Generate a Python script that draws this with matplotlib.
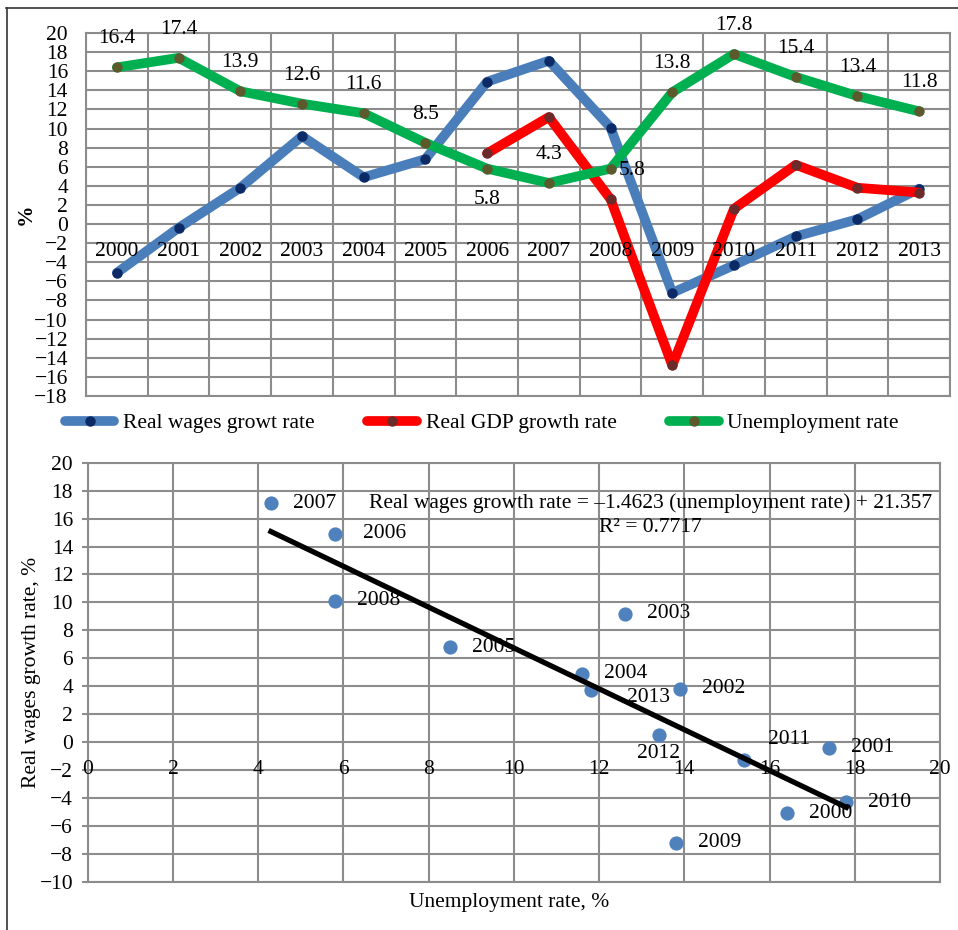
import numpy as np
import matplotlib
matplotlib.use("Agg")
import matplotlib.pyplot as plt
from matplotlib.lines import Line2D

plt.rcParams["font.family"] = ["Liberation Serif", "DejaVu Serif"]
plt.rcParams["font.size"] = 15.5

# Annual series, 2000-2013
years = [str(y) for y in range(2000, 2014)]
wages = [-5.1, -0.4, 3.8, 9.2, 4.9, 6.8, 14.9, 17.1, 10.1, -7.2, -4.3, -1.3, 0.5, 3.7]
gdp = [np.nan] * 6 + [7.4, 11.2, 2.6, -14.8, 1.6, 6.2, 3.8, 3.3]
unemp = [16.4, 17.4, 13.9, 12.6, 11.6, 8.5, 5.8, 4.3, 5.8, 13.8, 17.8, 15.4, 13.4, 11.8]

# Linear fit reported on the scatter panel
slope, intercept, r2 = -1.4623, 21.357, 0.7717

GRID = "#8c8c8c"
GRID_LW = 1.5

fig = plt.figure(figsize=(9.58, 9.30), dpi=100)

# outer frame (left and top edges only)
fig.add_artist(Line2D([6.5 / 958, 6.5 / 958], [0, 1 - 8 / 930], color="#333333", lw=1.2))
fig.add_artist(Line2D([6 / 958, 1], [1 - 8 / 930, 1 - 8 / 930], color="#333333", lw=1.2))


def style_grid(ax):
    for s in ax.spines.values():
        s.set_color(GRID)
        s.set_linewidth(GRID_LW)
    ax.grid(True, which="both", color=GRID, lw=GRID_LW)
    ax.set_axisbelow(True)


# ---- top: time series ----
ax1 = fig.add_axes([86 / 958, 1 - 396 / 930, 864 / 958, 363 / 930])
x = np.arange(len(years))
ax1.set_xlim(-0.5, len(years) - 0.5)
ax1.set_ylim(-18, 20)
ax1.set_yticks(np.arange(-18, 21, 2))
ax1.set_xticks(np.arange(-0.5, len(years), 1))
ax1.set_xticklabels([])
ax1.tick_params(axis="x", length=0)
ax1.tick_params(axis="y", length=0, pad=13)
style_grid(ax1)

line_kw = dict(lw=7, marker="o", ms=6.5, solid_capstyle="round", solid_joinstyle="round")
ax1.plot(x, wages, color="#4a7ebb", mfc="#0b2a66", mec="#0b2a66", label="Real wages growt rate", **line_kw)
ax1.plot(x, gdp, color="#ff0000", mfc="#6b2b2b", mec="#6b2b2b", label="Real GDP growth rate", **line_kw)
ax1.plot(x, unemp, color="#00b050", mfc="#5c5a2c", mec="#5c5a2c", label="Unemployment rate", **line_kw)

for i, yr in enumerate(years):
    ax1.annotate(yr, (i, 0), xytext=(0, -19.5), textcoords="offset points",
                 ha="center", va="center")

# unemployment value labels
for i, v in enumerate(unemp):
    if years[i] == "2006":
        off, ha = (0, -22.5), "center"
    elif years[i] == "2008":
        off, ha = (6, -1.5), "left"
    else:
        off, ha = (0, 20.5), "center"
    ax1.annotate(f"{v:.1f}", (i, v), xytext=off, textcoords="offset points",
                 ha=ha, va="center")

ax1.set_ylabel("%", fontweight="bold")
ax1.yaxis.set_label_coords(-0.058, 0.5)

fig.legend(loc="center", bbox_to_anchor=(0.503, 1 - 423 / 930), ncol=3, frameon=False,
           handlelength=2.3, handletextpad=0.4, columnspacing=2.45, numpoints=1)

# ---- bottom: scatter ----
ax2 = fig.add_axes([87.7 / 958, 1 - 881.7 / 930, 852.3 / 958, 419 / 930])
ax2.set_xlim(0, 20)
ax2.set_ylim(-10, 20)
ax2.set_xticks(np.arange(0, 21, 2))
ax2.set_yticks(np.arange(-10, 21, 2))
ax2.set_xticklabels([])
ax2.tick_params(axis="x", length=0)
ax2.tick_params(axis="y", length=4.5, width=GRID_LW, color=GRID, pad=6)
style_grid(ax2)

for t in np.arange(0, 21, 2):
    ax2.annotate(f"{t}", (t, 0), xytext=(0, -19.5), textcoords="offset points",
                 ha="center", va="center")

ax2.scatter(unemp, wages, s=105, color="#4f81bd", zorder=3, linewidths=0)

label_offsets = {
    "2006": ((20, 0), "left"),
    "2013": ((26.5, -5), "left"),
    "2012": ((0, -13), "center"),
    "2011": ((17, 15), "left"),
}
for yr, ux, wy in zip(years, unemp, wages):
    off, ha = label_offsets.get(yr, ((16, 0), "left"))
    ax2.annotate(yr, (ux, wy), xytext=off, textcoords="offset points",
                 ha=ha, va="center", zorder=4)

xf = np.array([min(unemp), max(unemp)])
ax2.plot(xf, slope * xf + intercept, color="black", lw=3.8, zorder=5)

# regression equation and R², one text per line
fig.text(651 / 958, 1 - 503 / 930,
         f"Real wages growth rate = \u2013{abs(slope):.4f} (unemployment rate) + {intercept:.3f}",
         ha="center", va="center")
fig.text(650 / 958, 1 - 527 / 930, f"R\u00b2 = {r2:.4f}", ha="center", va="center")

ax2.set_xlabel("Unemployment rate, %")
ax2.xaxis.set_label_coords(0.494, -0.027)
ax2.set_ylabel("Real wages growth rate, %")
ax2.yaxis.set_label_coords(-0.055, 0.5)

fig.savefig("out.png", dpi=100)
